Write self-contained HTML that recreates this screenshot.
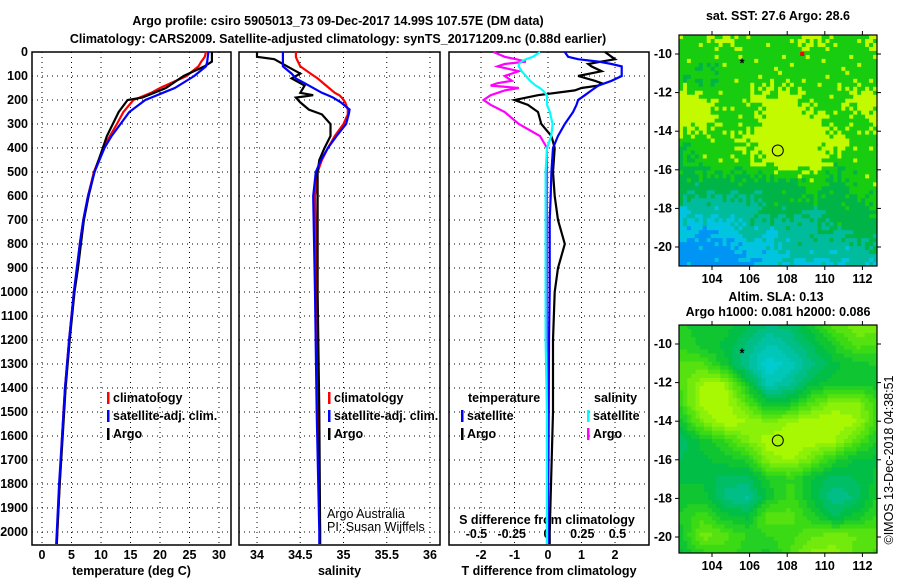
<!DOCTYPE html>
<html><head><meta charset="utf-8"><style>
body{margin:0;background:#fff}
svg text{font-family:"Liberation Sans",sans-serif;font-weight:bold;font-size:12.5px;fill:#000}
svg text.thin{font-weight:normal}
</style></head><body>
<svg id="c" width="900" height="580" xmlns="http://www.w3.org/2000/svg"></svg>
<script>
// depth grid and profile data
const depthT = [0,20,40,60,100,150,170,190,200,250,300,350,400,500,600,700,800,900,1000,1200,1400,1600,1800,2000,2050];
const tempClim = [27.8,27.6,27.0,26.5,24.5,20,18.5,16.5,15.5,13.8,12.7,11.5,10.4,8.8,7.8,7.0,6.4,6.0,5.4,4.6,3.9,3.4,3.0,2.6,2.5];
const tempSat  = [28.2,28.1,28.0,27.8,25.8,22.5,20.5,18.5,17.5,14.8,13.3,11.8,10.6,8.9,7.8,7.0,6.4,5.9,5.4,4.6,3.9,3.4,2.9,2.5,2.4];
const tempArgo = [28.8,28.8,28.8,27.5,24.0,21.0,19.0,17.0,14.5,13.0,12.0,11.0,10.3,8.9,7.9,7.1,6.6,6.1,5.5,4.7,4.0,3.5,3.0,2.6,2.5];
const depthS = [0,20,30,60,90,110,140,170,180,190,210,240,260,300,350,400,450,500,600,1000,1500,2000,2050];
const salClim = [34.45,34.45,34.46,34.5,34.62,34.7,34.8,34.9,34.95,34.98,35.02,35.05,35.05,35.0,34.9,34.82,34.75,34.7,34.67,34.69,34.7,34.73,34.73];
const salSat  = [34.3,34.3,34.3,34.3,34.4,34.45,34.6,34.75,34.82,34.88,34.97,35.07,35.06,35.03,34.92,34.82,34.74,34.68,34.65,34.67,34.69,34.72,34.72];
const salArgo = [34.0,34.0,34.2,34.35,34.5,34.4,34.55,34.5,34.65,34.45,34.5,34.6,34.75,34.85,34.85,34.78,34.72,34.7,34.7,34.7,34.72,34.73,34.73];
const depthD = [0,20,30,40,50,60,80,100,120,130,140,150,160,180,200,220,250,300,350,400,500,600,700,800,900,1000,1200,1500,2000,2050];
const dTSat  = [0.5,0.6,0.9,1.5,1.9,2.2,2.2,2.2,1.9,1.7,1.5,1.4,1.3,1.1,0.9,0.85,0.75,0.5,0.3,0.15,0.1,0.08,0.05,0.05,0.05,0.05,0.03,0.02,0,0];
const dTArgo = [1.7,1.9,2.0,1.6,1.2,1.3,1.6,0.9,1.4,1.6,1.5,1.0,0.8,-0.3,-1.0,-0.6,-0.3,-0.2,0.1,0.2,0.15,0.2,0.3,0.5,0.3,0.2,0.15,0.15,0.05,0.05];
const dSSat  = [-0.05,-0.1,-0.15,-0.18,-0.2,-0.2,-0.18,-0.15,-0.12,-0.1,-0.08,-0.05,-0.03,0.0,0.0,0.0,0.02,0.04,0.03,0.0,-0.01,-0.01,-0.01,-0.01,-0.01,-0.01,-0.01,0,0,0];
const dSArgo = [-0.38,-0.3,-0.22,-0.15,-0.3,-0.35,-0.2,-0.3,-0.25,-0.35,-0.4,-0.2,-0.3,-0.4,-0.45,-0.4,-0.3,-0.2,-0.05,0.0,0.0,0.0,0.0,0.0,0.0,0.0,0.0,0.0,0.0,0.0];
const depthTicks = [0,100,200,300,400,500,600,700,800,900,1000,1100,1200,1300,1400,1500,1600,1700,1800,1900,2000];
const tempTicks = [0,5,10,15,20,25,30];
const salTicks = [34,34.5,35,35.5,36];
const salTickLabels = ["34","34.5","35","35.5","36"];
const dTTicks = [-2,-1,0,1,2];
const dSTicks = [-0.5,-0.25,0,0.25,0.5];
const dSTickLabels = ["-0.5","-0.25","0","0.25","0.5"];
const lonTicks = [104,106,108,110,112];
const latTicks = [-10,-12,-14,-16,-18,-20];
// SST map classes (rows north->south, -9..-21; cols 102.25..112.8)
const sstGrid = [
[1,1,0,1,1,1,0,1,1,0],
[1,1,1,1,1,1,1,1,1,1],
[1,2,1,1,1,1,1,1,1,1],
[0,0,1,1,0,0,1,1,0,0],
[0,0,1,1,0,0,0,1,1,0],
[1,1,1,0,0,0,0,0,1,1],
[2,1,1,1,0,0,0,1,1,1],
[2,2,2,2,2,2,1,2,1,1],
[3,3,3,3,2,2,2,2,2,1],
[4,4,4,3,3,3,3,2,2,2],
[5,5,5,4,4,3,3,3,3,2],
[5,5,5,5,4,4,4,4,3,4]];
// SLA map values (0 lime .. 1 cyan)
const slaGrid = [
[.45,.5,.5,.6,.7,.65,.5,.3,.2,.2],
[.4,.5,.55,.7,.85,.75,.6,.45,.3,.35],
[.3,.3,.5,.75,.95,.85,.7,.55,.5,.45],
[.3,.1,.1,.5,.85,.75,.55,.5,.5,.5],
[.35,.05,.05,.3,.55,.5,.3,.15,.15,.4],
[.5,.2,.05,.1,.2,.1,.05,.05,.1,.4],
[.65,.5,.4,.2,.05,.05,.05,.1,.3,.5],
[.6,.55,.5,.45,.15,.1,.25,.45,.55,.55],
[.55,.55,.65,.65,.45,.4,.55,.65,.6,.5],
[.5,.5,.7,.75,.5,.35,.55,.75,.65,.45],
[.45,.35,.5,.55,.25,.3,.45,.6,.5,.35],
[.5,.2,.3,.4,.4,.35,.25,.2,.25,.3],
[.55,.45,.35,.45,.5,.3,.15,.15,.3,.35]];

const S=document.getElementById('c'),NS='http://www.w3.org/2000/svg';
function mk(t,a,p){const e=document.createElementNS(NS,t);for(const k in a)e.setAttribute(k,a[k]);(p||S).appendChild(e);return e;}
function txt(x,y,s,anchor,name,extra){const e=mk('text',Object.assign({x:x,y:y,'text-anchor':anchor||'middle'},extra||{}));e.textContent=s;


return e;}
const Y0=52,Yk=0.24,PB=545;
const yD=d=>Y0+d*Yk;
const xT=v=>42+v*5.9, xS=v=>257+(v-34)*86.5, xDT=v=>548+v*33.5, xDS=v=>547+v*141;
function panel(x1,x2,name,xt,ticks,labels,xfn,title){
  const g=mk('g',{});
  
  
  depthTicks.forEach(d=>mk('line',{x1:x1,x2:x2,y1:yD(d),y2:yD(d),stroke:'#000','stroke-width':1,'stroke-dasharray':'1,4'},g));
  ticks.forEach(t=>mk('line',{x1:xfn(t),x2:xfn(t),y1:Y0,y2:PB,stroke:'#000','stroke-width':1,'stroke-dasharray':'1,4'},g));
  mk('rect',{x:x1,y:Y0,width:x2-x1,height:PB-Y0,fill:'none',stroke:'#000','stroke-width':1.5},g);
  if(xt){ticks.forEach((t,i)=>txt(xfn(t),559,labels[i],'middle','x-tick-label'));}
  if(title)txt((x1+x2)/2,575,title,'middle','x-axis-title');
}
function line(xs,ds,xfn,col,name){
  const pts=xs.map((v,i)=>xfn(v).toFixed(1)+','+yD(ds[i]).toFixed(1)).join(' ');
  const e=mk('polyline',{points:pts,fill:'none',stroke:col,'stroke-width':2.2});
  
  
}
txt(338,25,'Argo profile: csiro 5905013_73 09-Dec-2017 14.99S 107.57E (DM data)','middle','chart-title',{'font-size':'14px'});
txt(338,43,'Climatology: CARS2009. Satellite-adjusted climatology: synTS_20171209.nc (0.88d earlier)','middle','chart-subtitle',{'font-size':'14px'});
depthTicks.forEach(d=>txt(28,yD(d)+4,String(d),'end','depth-tick-label'));

panel(32,231,'temperature-panel',true,tempTicks,tempTicks.map(String),xT,'temperature (deg C)');
line(tempClim,depthT,xT,'#f00','temp-climatology-line');
line(tempArgo,depthT,xT,'#000','temp-argo-line');
line(tempSat,depthT,xT,'#00f','temp-satellite-line');

panel(239,440,'salinity-panel',true,salTicks,salTickLabels,xS,'salinity');
line(salClim,depthS,xS,'#f00','sal-climatology-line');
line(salArgo,depthS,xS,'#000','sal-argo-line');
line(salSat,depthS,xS,'#00f','sal-satellite-line');

panel(449,649,'difference-panel',true,dTTicks,dTTicks.map(String),xDT,'T difference from climatology');
dSTicks.forEach((t,i)=>txt(xDS(t),538,dSTickLabels[i],'middle','s-diff-tick-label'));
txt(547,524,'S difference from climatology','middle','s-diff-axis-title');
line(dTArgo,depthD,xDT,'#000','tdiff-argo-line');
line(dTSat,depthD,xDT,'#00f','tdiff-satellite-line');
line(dSArgo,depthD,xDS,'#f0f','sdiff-argo-line');
line(dSSat,depthD,xDS,'#0ff','sdiff-satellite-line');

function leg(x,y,col,label){const r=mk('rect',{x:x,y:y-10,width:2.5,height:12,fill:col});


txt(x+6,y,label,'start','legend-entry');}
leg(107,402,'#f00','climatology');leg(107,420,'#00f','satellite-adj. clim.');leg(107,438,'#000','Argo');
leg(328,402,'#f00','climatology');leg(328,420,'#00f','satellite-adj. clim.');leg(328,438,'#000','Argo');
txt(468,402,'temperature','start','legend-title');txt(594,402,'salinity','start','legend-title');
leg(461,420,'#00f','satellite');leg(461,438,'#000','Argo');
leg(587,420,'#0ff','satellite');leg(587,438,'#f0f','Argo');
txt(327,518,'Argo Australia','start','credit-text',{'class':'thin','font-size':'12px'});
txt(327,531,'PI: Susan Wijffels','start','credit-text',{'class':'thin','font-size':'12px'});

// maps
const MX1=679,MX2=877,lonX=l=>712+(l-104)*18.8;
function mapAxes(top,bot,latY,name){
  const g=mk('g',{});
  
  
  mk('rect',{x:MX1,y:top,width:MX2-MX1,height:bot-top,fill:'none',stroke:'#000','stroke-width':1.2},g);
  lonTicks.forEach(l=>{mk('line',{x1:lonX(l),x2:lonX(l),y1:bot,y2:bot+4,stroke:'#000'},g);mk('line',{x1:lonX(l),x2:lonX(l),y1:top,y2:top-4,stroke:'#000'},g);txt(lonX(l),bot+17,String(l),'middle','lon-tick-label');});
  latTicks.forEach(l=>{mk('line',{x1:MX1-4,x2:MX1,y1:latY(l),y2:latY(l),stroke:'#000'},g);mk('line',{x1:MX2,x2:MX2+4,y1:latY(l),y2:latY(l),stroke:'#000'},g);txt(672,latY(l)+4,String(l),'end','lat-tick-label');});
}
function drawGrid(top,bot,nx,ny,colorAt,name){
  const g=mk('g',{});
  
  
  const cw=(MX2-MX1)/nx,ch=(bot-top)/ny;
  for(let j=0;j<ny;j++)for(let i=0;i<nx;i++)
    mk('rect',{x:(MX1+i*cw).toFixed(2),y:(top+j*ch).toFixed(2),width:(cw+0.5).toFixed(2),height:(ch+0.5).toFixed(2),fill:colorAt(i/nx,j/ny,i,j)},g);
}
function bil(grid,u,v,nc,nr){
  const gx=u*(nc-1),gy=v*(nr-1),x0=Math.floor(gx),y0=Math.floor(gy),x1=Math.min(nc-1,x0+1),y1=Math.min(nr-1,y0+1),fx=gx-x0,fy=gy-y0;
  return grid[y0][x0]*(1-fx)*(1-fy)+grid[y0][x1]*fx*(1-fy)+grid[y1][x0]*(1-fx)*fy+grid[y1][x1]*fx*fy;
}
const sstCols=['#c4fa00','#18cc10','#00b448','#00bc9c','#00c4e0','#0094f4'];
drawGrid(35,266,50,58,(u,v,i,j)=>{
  const h=((i*73+j*151+i*j*37)%17)/17-0.5;
  let k=Math.round(bil(sstGrid,u,v,10,12)+h*1.1);
  k=Math.max(0,Math.min(5,k));
  return sstCols[k];},'sst-map');
const lat1=l=>54+(-10-l)*19.3;
mapAxes(35,266,lat1,'sst-map-axes');
txt(778,20,'sat. SST: 27.6 Argo: 28.6','middle','sst-map-title');
mk('circle',{cx:lonX(107.5),cy:lat1(-15),r:5.5,fill:'none',stroke:'#000'});
mk('rect',{x:lonX(108.8)-2,y:lat1(-10)-2,width:4,height:4,fill:'#f00'});
txt(lonX(105.6),lat1(-10.5)+4,'*','middle','float-marker',{'font-size':'11px'});

function slaCol(t){const stops=[[0,[196,255,0]],[0.35,[60,220,20]],[0.55,[0,190,60]],[0.75,[0,190,150]],[1,[0,210,230]]];
  for(let k=1;k<stops.length;k++)if(t<=stops[k][0]){const a=stops[k-1],b=stops[k],f=(t-a[0])/(b[0]-a[0]);return 'rgb('+a[1].map((v,n)=>Math.round(v+(b[1][n]-v)*f)).join(',')+')';}
  return 'rgb(0,210,230)';}
drawGrid(325,553,48,56,(u,v)=>slaCol(Math.round(bil(slaGrid,u,v,10,13)*14)/14),'sla-map');
const lat2=l=>344+(-10-l)*19.3;
mapAxes(325,553,lat2,'sla-map-axes');
txt(776,301,'Altim. SLA: 0.13','middle','sla-map-title');
txt(778,316,'Argo h1000: 0.081 h2000: 0.086','middle','sla-map-subtitle');
mk('circle',{cx:lonX(107.5),cy:lat2(-15),r:5.5,fill:'none',stroke:'#000'});
txt(lonX(105.6),lat2(-10.5)+4,'*','middle','float-marker',{'font-size':'11px'});
txt(0,0,'©IMOS 13-Dec-2018 04:38:51','middle','timestamp-credit',{'class':'thin','font-size':'12px',transform:'translate(893,460) rotate(-90)'});
</script>
</body></html>
